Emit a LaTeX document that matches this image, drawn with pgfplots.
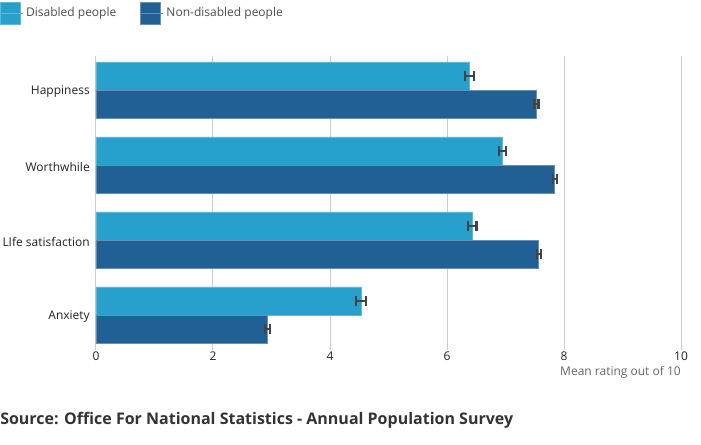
\documentclass[border=0pt]{standalone}
\usepackage{pgfplots}
\pgfplotsset{compat=1.18}
\usepackage{fontspec}
\setmainfont{Open Sans}
\definecolor{dis}{HTML}{27A0CC}
\definecolor{nondis}{HTML}{206095}
\definecolor{grid}{HTML}{CCCCCC}
\definecolor{txt}{HTML}{222222}
\definecolor{errc}{HTML}{444444}
\begin{document}
\begin{tikzpicture}
\path[use as bounding box] (0,0) rectangle (525.75pt,-333pt);
\begin{axis}[
  at={(72pt,-262.5pt)}, anchor=south west,
  scale only axis, width=438.75pt, height=220.5pt,
  xbar, bar width=0.373,
  xmin=0, xmax=10, xtick={0,2,...,10},
  ymin=-0.453, ymax=3.467, y dir=reverse,
  ytick={0,1,2,3},
  yticklabels={Happiness,Worthwhile,LIfe satisfaction,Anxiety},
  axis line style={draw=none},
  major tick length=0pt,
  xmajorgrids, grid style={color=grid, line width=0.75pt},
  tick label style={font=\fontsize{9}{11}\selectfont, text=txt},
  yticklabel style={inner sep=0pt, xshift=-4.5pt, yshift=-1.2pt},
  xticklabel style={inner sep=0pt, yshift=-1pt},
  /pgf/number format/assume math mode=true,
  legend style={at={(-0.1641,1.1837)}, anchor=north west, draw=none, fill=none,
    legend columns=2, font=\fontsize{9}{11}\selectfont, text=black!70,
    inner sep=0pt, outer sep=0pt,
    /tikz/every even column/.append style={column sep=16pt}},
  legend image code/.code={\fill[#1] (0pt,-8.25pt) rectangle (15pt,8.25pt); \path (0pt,0pt) -- (17pt,0pt);},
  error bars/error bar style={color=errc, line width=1.4pt},
  error bars/error mark options={color=errc, line width=1.6pt, mark size=3.8pt, rotate=90},
]
\addplot[fill=dis, draw=dis!75!white, line width=0.6pt, bar shift=-0.187,
  error bars/.cd, x dir=both, x explicit]
  coordinates {(6.39,0) +- (0.075,0) (6.95,1) +- (0.065,0) (6.43,2) +- (0.075,0) (4.53,3) +- (0.09,0)};
\addlegendentry{Disabled people}
\addplot[fill=nondis, draw=nondis!70!white, line width=0.6pt, bar shift=0.187,
  error bars/.cd, x dir=both, x explicit]
  coordinates {(7.53,0) +- (0.035,0) (7.84,1) +- (0.035,0) (7.57,2) +- (0.035,0) (2.93,3) +- (0.045,0)};
\addlegendentry{Non-disabled people}
\end{axis}
\node[anchor=east, inner sep=0pt, font=\fontsize{9}{11}\selectfont, text=black!60] at (510.75pt,-279pt) {Mean rating out of 10};
\node[anchor=west, inner sep=0pt, font=\fontsize{12}{14}\selectfont\bfseries, text=black!80] at (0pt,-315pt) {Source: Office For National Statistics - Annual Population Survey};
\end{tikzpicture}
\end{document}
